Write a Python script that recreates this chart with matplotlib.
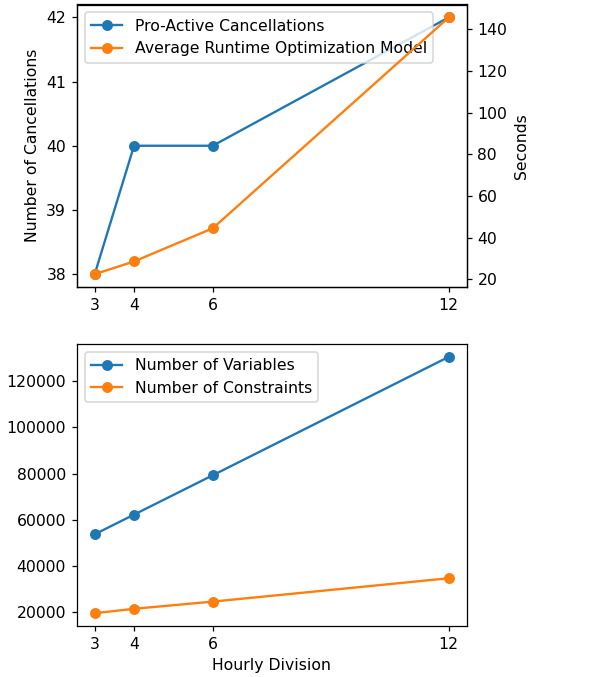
import matplotlib
matplotlib.use('Agg')
import matplotlib.pyplot as plt

# ── Data ──────────────────────────────────────────────────────────────────────
hourly_division = [3, 4, 6, 12]
cancellations   = [38, 40, 40, 42]
runtime_seconds = [22.5, 28.6, 44.5, 145.7]
num_variables   = [53800, 62300, 79300, 130500]
num_constraints = [19700, 21600, 24700, 34800]
cancel_ticks    = [38, 39, 40, 41, 42]

W, H = 597, 677
DPI = 112.5
fig = plt.figure(figsize=(W / DPI, H / DPI), dpi=DPI)

def box(l, t, r, b):
    return [l / W, 1 - b / H, (r - l) / W, (b - t) / H]

# ── Top: cancellations + runtime ─────────────────────────────────────────────
ax1 = fig.add_axes(box(77, 4.5, 466.5, 287))
l1, = ax1.plot(hourly_division, cancellations, 'o-', color='C0',
               label='Pro-Active Cancellations')
ax1.set_ylabel('Number of Cancellations')
ax1.set_xticks(hourly_division)
ax1.set_yticks(cancel_ticks)

ax2 = ax1.twinx()
l2, = ax2.plot(hourly_division, runtime_seconds, 'o-', color='C1',
               label='Average Runtime Optimization Model')
ax2.set_ylabel('Seconds')
ax1.legend(handles=[l1, l2], loc='upper left')

# ── Bottom: model size ───────────────────────────────────────────────────────
ax3 = fig.add_axes(box(77, 344, 466.5, 626))
ax3.plot(hourly_division, num_variables, 'o-', color='C0', label='Number of Variables')
ax3.plot(hourly_division, num_constraints, 'o-', color='C1', label='Number of Constraints')
ax3.set_xticks(hourly_division)
ax3.set_xlabel('Hourly Division')
ax3.legend(loc='upper left')

fig.savefig('out.png', dpi=DPI)
